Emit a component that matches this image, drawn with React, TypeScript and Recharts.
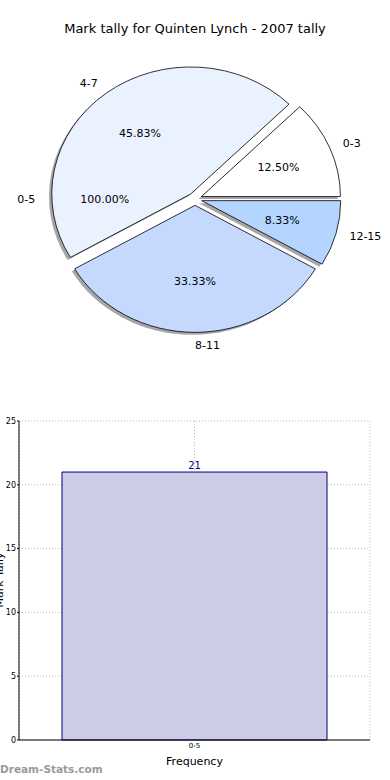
import {
  PieChart,
  Pie,
  Cell,
  Sector,
  BarChart,
  Bar,
  XAxis,
  YAxis,
  CartesianGrid,
  LabelList,
} from "recharts";

const sliceLabels = ["0-3", "4-7", "8-11", "12-15"];
const sliceValues = [3, 11, 8, 2];
const sliceColors = ["#ffffff", "#ebf2ff", "#c5d9ff", "#b3d5ff"];

const outerLabels = ["0-5"];
const outerValues = [21];

const barCategories = ["0-5"];
const barValues = [21];
const yTicks = [0, 5, 10, 15, 20, 25];

const pieData = sliceLabels.map((label, i) => ({ name: label, value: sliceValues[i] }));
const outerData = outerLabels.map((label, i) => ({ name: label, value: outerValues[i] }));
const barData = barCategories.map((label, i) => ({ label, value: barValues[i] }));

const FONT = "'DejaVu Sans', sans-serif";
const RAD = Math.PI / 180;
// matplotlib axes are not square, so the pie comes out as an ellipse
const SY = 127 / 139;
const EXPLODE = 0.05;

function offset(midAngle: number, r: number, dist: number) {
  return {
    dx: dist * r * Math.cos(midAngle * RAD),
    dy: -dist * r * SY * Math.sin(midAngle * RAD),
  };
}

function makeSlice(shadow: boolean) {
  return (props: any) => {
    const { cx, cy, midAngle, outerRadius, startAngle, endAngle, fill } = props;
    const { dx, dy } = offset(midAngle, outerRadius, EXPLODE);
    const sx = shadow ? -2.8 : 0;
    const sy = shadow ? 2.5 : 0;
    return (
      <g
        transform={`translate(${cx + dx + sx} ${cy + dy + sy}) scale(1 ${SY}) translate(${-cx} ${-cy})`}
      >
        <Sector
          cx={cx}
          cy={cy}
          innerRadius={0}
          outerRadius={outerRadius}
          startAngle={startAngle}
          endAngle={endAngle}
          fill={shadow ? "#4d4d4d" : fill}
          fillOpacity={shadow ? 0.5 : 1}
          stroke={shadow ? "none" : "#000000"}
          strokeWidth={0.8}
          vectorEffect="non-scaling-stroke"
        />
      </g>
    );
  };
}

function makeLabel(explode: number) {
  return (props: any) => {
    const { cx, cy, midAngle, outerRadius, percent, name } = props;
    const c = offset(midAngle, outerRadius, explode);
    const ox = cx + c.dx;
    const oy = cy + c.dy;
    const l = offset(midAngle, outerRadius, 1.1);
    const p = offset(midAngle, outerRadius, 0.6);
    const lx = ox + l.dx;
    return (
      <g>
        <text
          x={lx}
          y={oy + l.dy}
          textAnchor={lx > ox - 0.01 ? "start" : "end"}
          dominantBaseline="central"
          fontSize={11}
          fontFamily={FONT}
          fill="#000"
        >
          {name}
        </text>
        <text
          x={ox + p.dx}
          y={oy + p.dy}
          textAnchor="middle"
          dominantBaseline="central"
          fontSize={11}
          fontFamily={FONT}
          fill="#000"
        >
          {(percent * 100).toFixed(2)}%
        </text>
      </g>
    );
  };
}

export default function App() {
  return (
    <div style={{ position: "absolute", left: 0, top: 0, width: 390, height: 780, background: "#fff", overflow: "hidden" }}>
      <div
        style={{
          position: "absolute",
          top: 21,
          width: 390,
          textAlign: "center",
          fontFamily: FONT,
          fontSize: 13,
          color: "#000",
        }}
      >
        Mark tally for Quinten Lynch - 2007 tally
      </div>
      <div style={{ position: "absolute", left: 0, top: 0 }}>
        <PieChart width={390} height={370} margin={{ top: 0, right: 0, bottom: 0, left: 0 }}>
          <Pie
            data={outerData}
            dataKey="value"
            nameKey="name"
            cx={195}
            cy={199}
            outerRadius={139}
            startAngle={0}
            endAngle={360}
            fill="none"
            stroke="none"
            label={makeLabel(EXPLODE)}
            labelLine={false}
            isAnimationActive={false}
          />
          <Pie
            data={pieData}
            dataKey="value"
            nameKey="name"
            cx={195}
            cy={199}
            outerRadius={139}
            startAngle={0}
            endAngle={360}
            shape={makeSlice(true)}
            labelLine={false}
            isAnimationActive={false}
          />
          <Pie
            data={pieData}
            dataKey="value"
            nameKey="name"
            cx={195}
            cy={199}
            outerRadius={139}
            startAngle={0}
            endAngle={360}
            shape={makeSlice(false)}
            label={makeLabel(EXPLODE)}
            labelLine={false}
            isAnimationActive={false}
          >
            {pieData.map((_, i) => (
              <Cell key={i} fill={sliceColors[i % sliceColors.length]} />
            ))}
          </Pie>
        </PieChart>
      </div>
      <div style={{ position: "absolute", left: 0, top: 400 }}>
        <BarChart
          width={390}
          height={380}
          data={barData}
          margin={{ top: 21, right: 20, bottom: 10, left: 0 }}
          barCategoryGap={43}
        >
          <CartesianGrid stroke="#b8b8b8" strokeDasharray="1 2" />
          <XAxis
            dataKey="label"
            height={30}
            tickSize={2}
            tickMargin={1}
            tickLine={false}
            axisLine={{ stroke: "#000" }}
            tick={{ fontSize: 7, fill: "#000", fontFamily: FONT }}
            label={{ value: "Frequency", position: "insideBottom", offset: 5, fontSize: 11, fill: "#000", fontFamily: FONT }}
          />
          <XAxis xAxisId="top" orientation="top" dataKey="label" height={0} tick={false} tickLine={false} axisLine={{ stroke: "#000" }} />
          <YAxis
            domain={[0, 25]}
            ticks={yTicks}
            width={19}
            tickSize={2}
            tickMargin={1}
            axisLine={{ stroke: "#000" }}
            tickLine={{ stroke: "#000" }}
            tick={{ fontSize: 8, fill: "#000", fontFamily: FONT }}
          />
          <YAxis yAxisId="right" orientation="right" width={0} tick={false} tickLine={false} axisLine={{ stroke: "#000" }} />
          <Bar dataKey="value" fill="#ccccE6" stroke="#000080" strokeWidth={1} isAnimationActive={false}>
            <LabelList dataKey="value" position="top" offset={3} fill="#000080" fontSize={10} fontFamily={FONT} />
          </Bar>
        </BarChart>
      </div>
      <svg style={{ position: "absolute", left: 0, top: 400 }} width={20} height={380}>
        <text
          transform="translate(3 180) rotate(-90)"
          textAnchor="middle"
          fontSize={11}
          fontFamily={FONT}
          fill="#000"
        >
          Mark Tally
        </text>
      </svg>
      <div
        style={{
          position: "absolute",
          left: 0,
          top: 763,
          fontFamily: FONT,
          fontWeight: "bold",
          fontSize: 10.5,
          color: "#9a9a9a",
        }}
      >
        Dream-Stats.com
      </div>
    </div>
  );
}
